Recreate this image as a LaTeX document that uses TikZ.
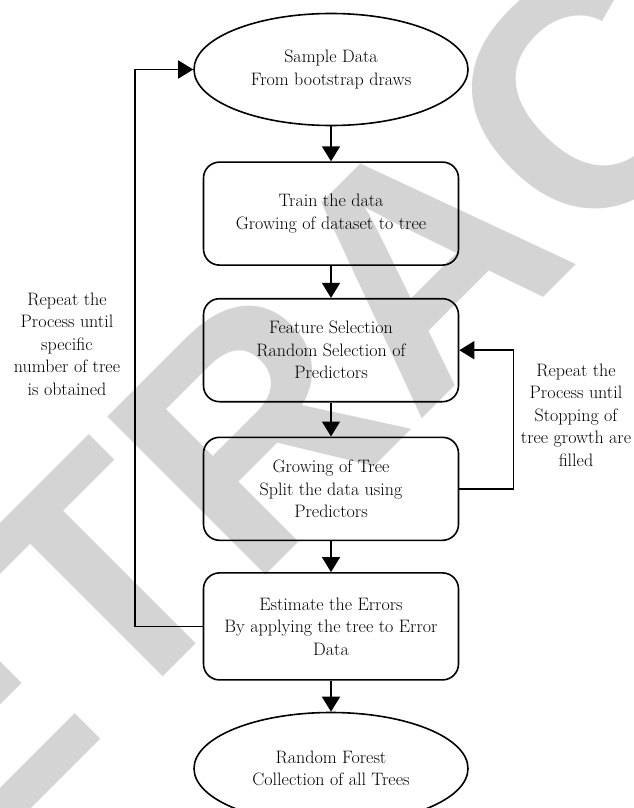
\documentclass[tikz,border=0pt]{standalone}
\usepackage{fontspec}
\newfontfamily\stampfont{Liberation Sans}
\usetikzlibrary{arrows.meta,positioning,shapes.geometric}
\definecolor{stampgray}{HTML}{D4D4D4}
\begin{document}
\begin{tikzpicture}[x=1pt,y=1pt,
    every node/.style={font=\fontsize{18}{22.5}\selectfont,align=center},
    stepbox/.style={draw,line width=1.6pt,rounded corners=16pt,minimum width=255pt,minimum height=103pt},
    endpoint/.style={draw,ellipse,line width=1.6pt,minimum width=274pt,minimum height=112pt},
    flow/.style={line width=1.6pt,-{Triangle[length=15pt,width=18pt]}}]
    \useasboundingbox (0,0) rectangle (634,-808);
    \node[text=stampgray,font=\stampfont\bfseries\fontsize{325}{325}\selectfont,rotate=45] (stamp) at (420,-262) {RETRACTED};
    \node[endpoint] (sample) at (331,-69.5) {Sample Data\\From bootstrap draws};
    \node[stepbox,below=35pt of sample] (train) {Train the data\\Growing of dataset to tree};
    \node[stepbox,below=32pt of train] (feat) {Feature Selection\\Random Selection of\\Predictors};
    \node[stepbox,below=34pt of feat] (grow) {Growing of Tree\\Split the data using\\Predictors};
    \node[stepbox,minimum height=107pt,below=31pt of grow] (est) {Estimate the Errors\\By applying the tree to Error\\Data};
    \node[endpoint,below=31pt of est] (forest) {Random Forest\\Collection of all Trees};
    \node (repeatL) at (67,-344) {Repeat the\\Process until\\specific\\number of tree\\is obtained};
    \node (repeatR) at (576,-415) {Repeat the\\Process until\\Stopping of\\tree growth are\\filled};
    \draw[flow] (sample)--(train);
    \draw[flow] (train)--(feat);
    \draw[flow] (feat)--(grow);
    \draw[flow] (grow)--(est);
    \draw[flow] (est)--(forest);
    \draw[flow] (est.west) -- ++(-68,0) |- (sample.west);
    \draw[flow] (grow.east) -- ++(54,0) |- (feat.east);
\end{tikzpicture}
\end{document}
